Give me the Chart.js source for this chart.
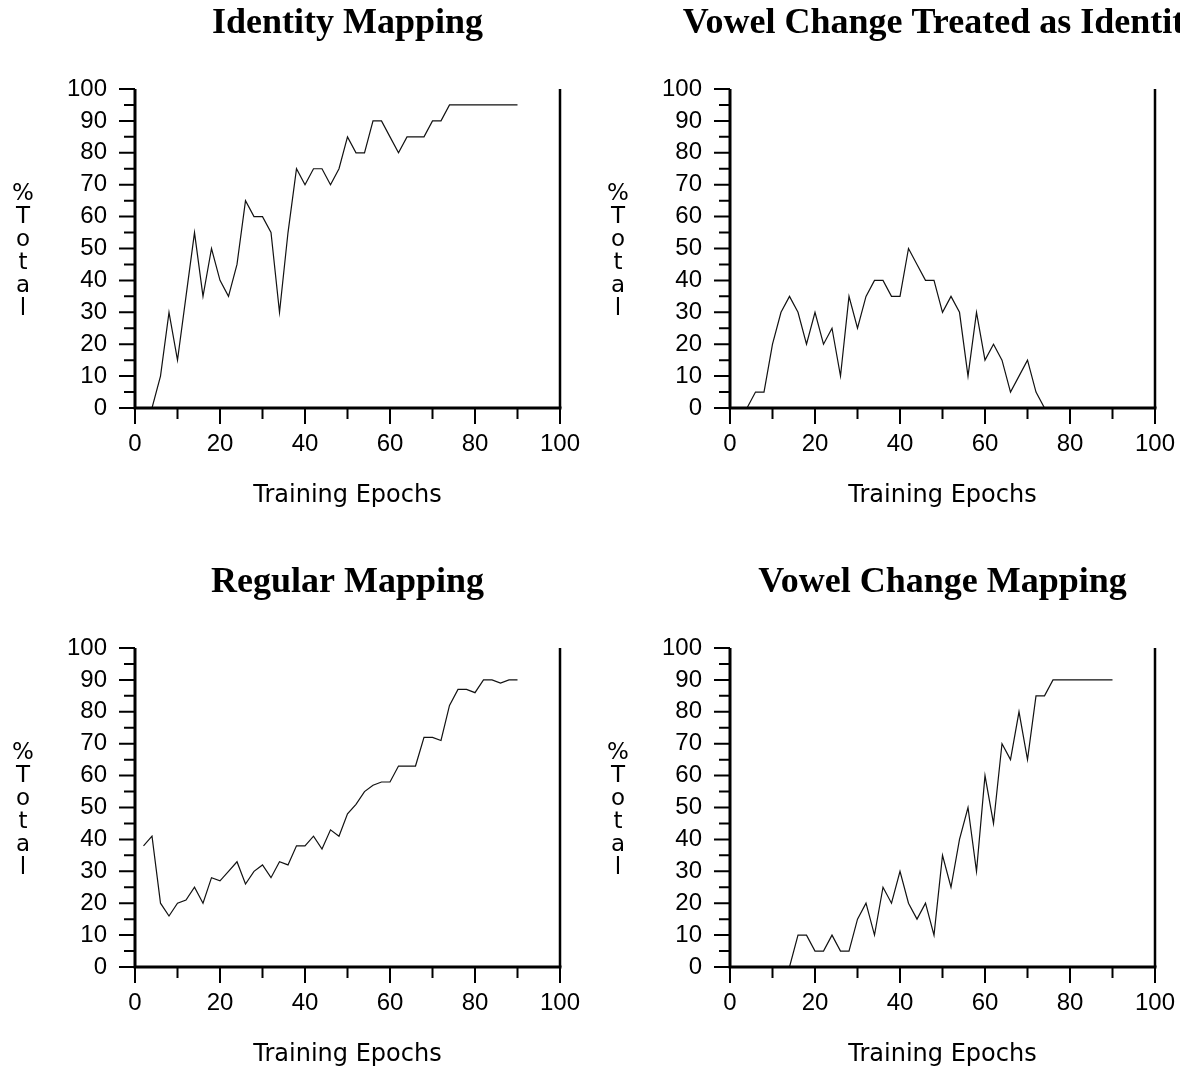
<!DOCTYPE html>
<html>
<head>
<meta charset="utf-8">
<script src="https://cdn.jsdelivr.net/npm/chart.js@4.4.0/dist/chart.umd.min.js"></script>
<style>
  body { margin: 0; background: #fff; width: 1180px; height: 1070px; overflow: hidden; position: relative; }
  canvas { position: absolute; }
</style>
</head>
<body>
<canvas id="c1" width="595" height="511" style="left:0px;top:0px"></canvas>
<canvas id="c2" width="585" height="511" style="left:595px;top:0px"></canvas>
<canvas id="c3" width="595" height="511" style="left:0px;top:559px"></canvas>
<canvas id="c4" width="585" height="511" style="left:595px;top:559px"></canvas>
<script>
// training epochs (sampled every 2 epochs)
const epochs = [0, 2, 4, 6, 8, 10, 12, 14, 16, 18, 20, 22, 24, 26, 28, 30, 32, 34, 36, 38, 40, 42, 44,
  46, 48, 50, 52, 54, 56, 58, 60, 62, 64, 66, 68, 70, 72, 74, 76, 78, 80, 82, 84, 86, 88, 90];
const epochsRegular = [2, 4, 6, 8, 10, 12, 14, 16, 18, 20, 22, 24, 26, 28, 30, 32, 34, 36, 38, 40, 42, 44,
  46, 48, 50, 52, 54, 56, 58, 60, 62, 64, 66, 68, 70, 72, 74, 76, 78, 80, 82, 84, 86, 88, 90];

// % total per panel
const identityTotal = [0, 0, 0, 10, 30, 15, 35, 55, 35, 50, 40, 35, 45, 65, 60, 60, 55, 30, 55, 75, 70, 75, 75,
  70, 75, 85, 80, 80, 90, 90, 85, 80, 85, 85, 85, 90, 90, 95, 95, 95, 95, 95, 95, 95, 95, 95];
const vowelAsIdentityTotal = [0, 0, 0, 5, 5, 20, 30, 35, 30, 20, 30, 20, 25, 10, 35, 25, 35, 40, 40, 35, 35, 50, 45,
  40, 40, 30, 35, 30, 10, 30, 15, 20, 15, 5, 10, 15, 5, 0, 0, 0, 0, 0, 0, 0, 0, 0];
const regularTotal = [38, 41, 20, 16, 20, 21, 25, 20, 28, 27, 30, 33, 26, 30, 32, 28, 33, 32, 38, 38, 41, 37,
  43, 41, 48, 51, 55, 57, 58, 58, 63, 63, 63, 72, 72, 71, 82, 87, 87, 86, 90, 90, 89, 90, 90];
const vowelChangeTotal = [0, 0, 0, 0, 0, 0, 0, 0, 10, 10, 5, 5, 10, 5, 5, 15, 20, 10, 25, 20, 30, 20, 15,
  20, 10, 35, 25, 40, 50, 30, 60, 45, 70, 65, 80, 65, 85, 85, 90, 90, 90, 90, 90, 90, 90, 90];

const xTitle = 'Training Epochs';
const yTitle = '%Total';

// axes, ticks, panel title and the stacked y label
const panelFrame = {
  id: 'panelFrame',
  afterDraw(chart, args, opts) {
    const ctx = chart.ctx;
    const area = chart.chartArea;
    const xs = chart.scales.x, ys = chart.scales.y;
    ctx.save();
    ctx.strokeStyle = '#000';
    ctx.lineWidth = 3;
    ctx.beginPath();
    ctx.moveTo(area.left, area.top);
    ctx.lineTo(area.left, area.bottom);
    ctx.moveTo(area.left - 1.5, area.bottom);
    ctx.lineTo(area.right + 1.5, area.bottom);
    ctx.stroke();
    ctx.lineWidth = 2.5;
    ctx.beginPath();
    ctx.moveTo(area.right, area.top);
    ctx.lineTo(area.right, area.bottom);
    ctx.stroke();

    ctx.lineWidth = 2;
    ctx.beginPath();
    for (let v = 0; v <= 100; v += 10) {
      const px = xs.getPixelForValue(v);
      ctx.moveTo(px, area.bottom);
      ctx.lineTo(px, area.bottom + (v % 20 === 0 ? 16 : 11));
    }
    for (let v = 0; v <= 100; v += 5) {
      const py = ys.getPixelForValue(v);
      ctx.moveTo(area.left, py);
      ctx.lineTo(area.left - (v % 10 === 0 ? 16 : 11), py);
    }
    ctx.stroke();

    ctx.fillStyle = '#000';
    ctx.textAlign = 'center';
    ctx.textBaseline = 'alphabetic';
    ctx.font = 'bold 36px "Liberation Serif"';
    ctx.fillText(opts.title, (area.left + area.right) / 2, area.top - 56);

    ctx.font = '23px "DejaVu Sans"';
    const chars = Array.from(yTitle);
    const midY = (area.top + area.bottom) / 2;
    chars.forEach((ch, i) => {
      ctx.fillText(ch, area.left - 112, midY + (i - (chars.length - 1) / 2) * 23 + 9);
    });
    ctx.restore();
  }
};

function makePanel(id, title, xVals, yVals) {
  const canvas = document.getElementById(id);
  const h = canvas.height;
  return new Chart(canvas, {
    type: 'line',
    data: {
      datasets: [{
        data: xVals.map((x, i) => ({ x: x, y: yVals[i] })),
        borderColor: '#111',
        borderWidth: 1.2,
        pointRadius: 0,
        tension: 0,
        fill: false
      }]
    },
    options: {
      responsive: false,
      animation: false,
      events: [],
      layout: { padding: { left: 0, top: 89, right: canvas.width - 560, bottom: 0 } },
      plugins: {
        legend: { display: false },
        tooltip: { enabled: false },
        panelFrame: { title: title }
      },
      scales: {
        x: {
          type: 'linear',
          min: 0,
          max: 100,
          grid: { display: false, drawTicks: false },
          border: { display: false },
          ticks: {
            stepSize: 20,
            padding: 22,
            autoSkip: false,
            maxRotation: 0,
            color: '#000',
            font: { family: '"Liberation Sans"', size: 24 }
          },
          title: {
            display: true,
            text: xTitle,
            color: '#000',
            font: { family: '"DejaVu Sans"', size: 24 },
            padding: { top: 0, bottom: 1 }
          },
          afterFit: scale => {
            scale.height = h - 408;
            scale.paddingLeft = 0;
            scale.paddingRight = 0;
          }
        },
        y: {
          min: 0,
          max: 100,
          grid: { display: false, drawTicks: false },
          border: { display: false },
          ticks: {
            stepSize: 10,
            padding: 28,
            color: '#000',
            font: { family: '"Liberation Sans"', size: 24 }
          },
          afterFit: scale => { scale.width = 135; }
        }
      }
    },
    plugins: [panelFrame]
  });
}

makePanel('c1', 'Identity Mapping', epochs, identityTotal);
makePanel('c2', 'Vowel Change Treated as Identity', epochs, vowelAsIdentityTotal);
makePanel('c3', 'Regular Mapping', epochsRegular, regularTotal);
makePanel('c4', 'Vowel Change Mapping', epochs, vowelChangeTotal);
</script>
</body>
</html>
